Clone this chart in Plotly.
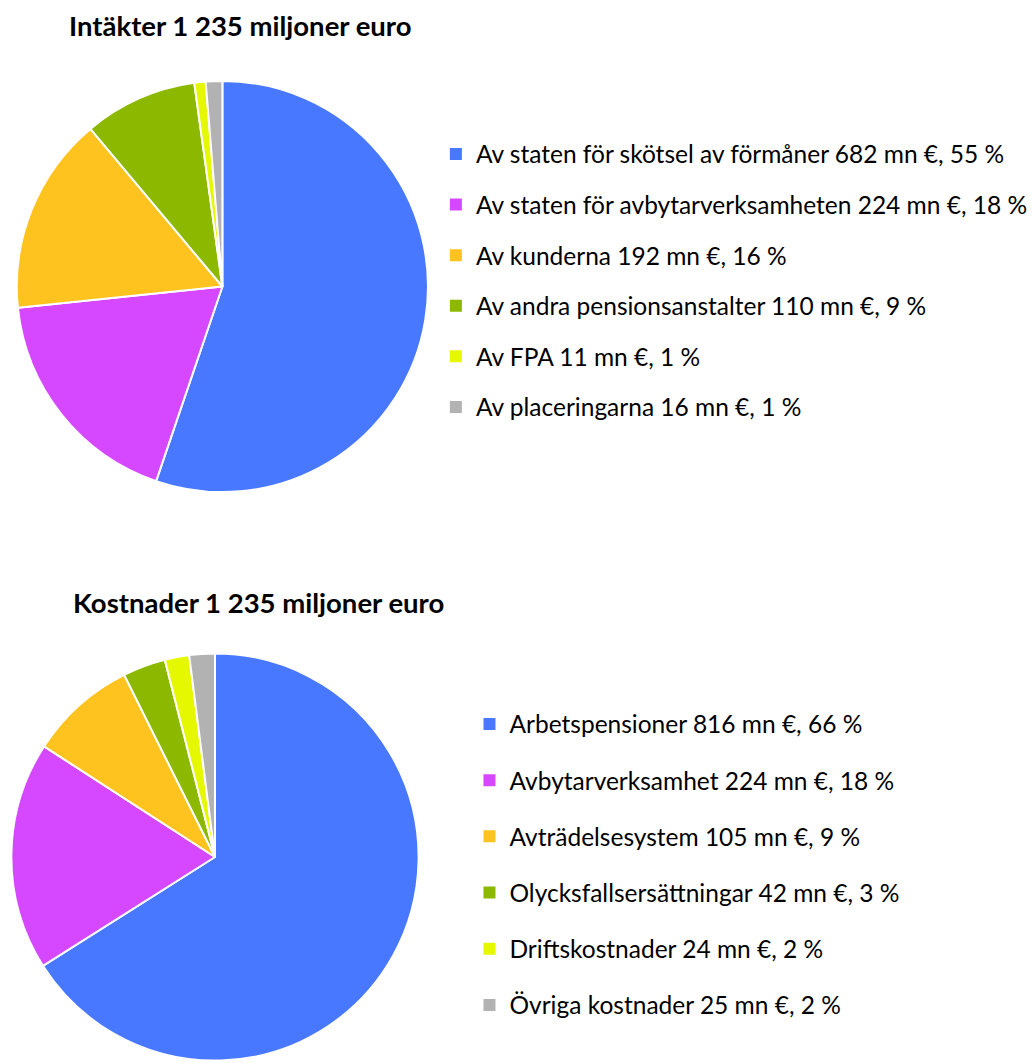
import plotly.graph_objects as go

W, H = 1033, 1063

title_income = "Intäkter 1 235 miljoner euro"
title_cost = "Kostnader 1 235 miljoner euro"

income_labels = [
    "Av staten för skötsel av förmåner 682 mn €, 55 %",
    "Av staten för avbytarverksamheten 224 mn €, 18 %",
    "Av kunderna 192 mn €, 16 %",
    "Av andra pensionsanstalter 110 mn €, 9 %",
    "Av FPA 11 mn €, 1 %",
    "Av placeringarna 16 mn €, 1 %",
]
income_values = [682, 224, 192, 110, 11, 16]

cost_labels = [
    "Arbetspensioner 816 mn €, 66 %",
    "Avbytarverksamhet 224 mn €, 18 %",
    "Avträdelsesystem 105 mn €, 9 %",
    "Olycksfallsersättningar 42 mn €, 3 %",
    "Driftskostnader 24 mn €, 2 %",
    "Övriga kostnader 25 mn €, 2 %",
]
cost_values = [816, 224, 105, 42, 24, 25]

colors = ["#4878FF", "#D548FF", "#FFC31F", "#8CB800", "#E5F800", "#B2B2B2"]

FONT = "Lato"

fig = go.Figure()

def px_x(v):
    return v / W

def px_y(v):
    return 1 - v / H

# Pie 1 (income)
fig.add_trace(go.Pie(
    labels=income_labels, values=income_values,
    marker=dict(colors=colors, line=dict(color="white", width=2)),
    sort=False, direction="clockwise", rotation=0,
    textinfo="none", showlegend=False,
    domain=dict(x=[px_x(17), px_x(433)], y=[px_y(494.5), px_y(78.5)]),
))

# Pie 2 (costs)
fig.add_trace(go.Pie(
    labels=cost_labels, values=cost_values,
    marker=dict(colors=colors, line=dict(color="white", width=2)),
    sort=False, direction="clockwise", rotation=0,
    textinfo="none", showlegend=False,
    domain=dict(x=[px_x(11.5), px_x(423.5)], y=[0, px_y(651)]),
))

# Legend entries (one group per slice so spacing can be set)
for i, (lab, col) in enumerate(zip(income_labels, colors)):
    fig.add_trace(go.Scatter(
        x=[None], y=[None], mode="markers", name=lab,
        marker=dict(symbol="square", size=12, color=col),
        legend="legend", legendgroup=f"inc{i}", showlegend=True,
    ))
for i, (lab, col) in enumerate(zip(cost_labels, colors)):
    fig.add_trace(go.Scatter(
        x=[None], y=[None], mode="markers", name=lab,
        marker=dict(symbol="square", size=12, color=col),
        legend="legend2", legendgroup=f"cost{i}", showlegend=True,
    ))

fig.update_layout(
    width=W, height=H,
    margin=dict(l=0, r=0, t=0, b=0),
    paper_bgcolor="white", plot_bgcolor="white",
    font=dict(family=FONT, color="#000000"),
    xaxis=dict(visible=False), yaxis=dict(visible=False),
    legend=dict(
        x=px_x(441), y=px_y(131.5), xanchor="left", yanchor="top",
        font=dict(family=FONT, size=24.5, color="#000000"),
        tracegroupgap=15.75, bgcolor="rgba(0,0,0,0)",
    ),
    legend2=dict(
        x=px_x(475), y=px_y(701.5), xanchor="left", yanchor="top",
        font=dict(family=FONT, size=24.5, color="#000000"),
        tracegroupgap=21.35, bgcolor="rgba(0,0,0,0)",
    ),
    annotations=[
        dict(text=f"<b>{title_income}</b>", x=px_x(243.5), y=px_y(26),
             xref="paper", yref="paper", xanchor="center", yanchor="middle",
             showarrow=False, font=dict(family=FONT, size=27.5, color="#000000")),
        dict(text=f"<b>{title_cost}</b>", x=px_x(262), y=px_y(602),
             xref="paper", yref="paper", xanchor="center", yanchor="middle",
             showarrow=False, font=dict(family=FONT, size=27.5, color="#000000")),
    ],
)

fig.write_html("out.html", config={"displayModeBar": False},
               post_script="document.body.style.margin='0';")
